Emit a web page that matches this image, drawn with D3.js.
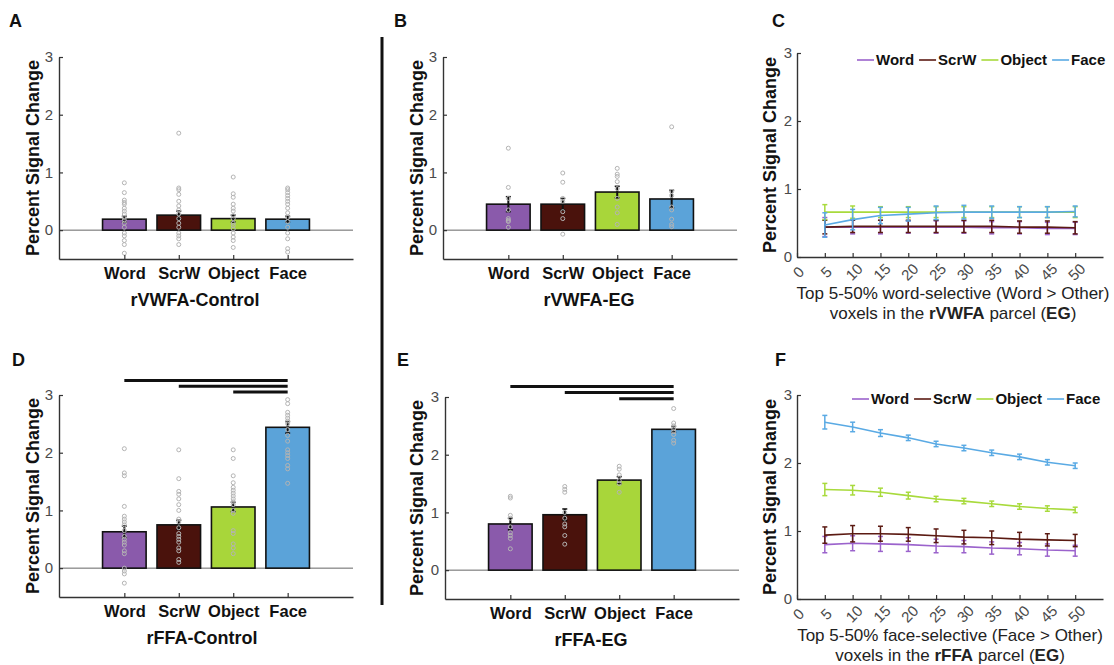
<!DOCTYPE html>
<html>
<head>
<meta charset="utf-8">
<script src="https://cdn.jsdelivr.net/npm/d3@7"></script>
<style>
  body { margin: 0; background: #fff; }
  svg { display: block; font-family: "Liberation Sans", Arial, sans-serif; }
</style>
</head>
<body>
<svg id="fig" width="1114" height="665"></svg>
<script>
// categories and colours
const categories = ["Word", "ScrW", "Object", "Face"];
const barColors = ["#8a5aab", "#4a120c", "#a8d63a", "#5ba3d9"];
const lineColors = ["#9b63cc", "#5b1a12", "#a8da3c", "#5aaae4"];

// A: rVWFA-Control
const meanA = [0.19, 0.26, 0.20, 0.19];
const semA = [0.05, 0.07, 0.06, 0.05];
const dotsA = [
  [0.82, 0.65, 0.52, 0.48, 0.45, 0.38, 0.33, 0.28, 0.22, 0.17, 0.12, 0.05, -0.05, -0.1, -0.18, -0.25, -0.4],
  [1.68, 0.73, 0.7, 0.62, 0.5, 0.42, 0.35, 0.28, 0.2, 0.12, 0.05, -0.05, -0.1, -0.15, -0.25],
  [0.92, 0.63, 0.57, 0.45, 0.38, 0.33, 0.25, 0.2, 0.12, 0.08, 0.02, -0.05, -0.12, -0.18, -0.3],
  [0.73, 0.7, 0.65, 0.6, 0.55, 0.5, 0.45, 0.38, 0.3, 0.22, 0.15, 0.05, -0.05, -0.15, -0.32, -0.38]
];

// B: rVWFA-EG
const meanB = [0.45, 0.45, 0.66, 0.54];
const semB = [0.13, 0.1, 0.1, 0.15];
const dotsB = [
  [1.42, 0.74, 0.55, 0.35, 0.2, 0.17, 0.15, 0.05],
  [0.99, 0.83, 0.55, 0.5, 0.32, 0.2, -0.07],
  [1.07, 0.97, 0.93, 0.84, 0.72, 0.55, 0.4, 0.3, 0.1],
  [1.79, 0.67, 0.6, 0.4, 0.35, 0.19, 0.1, 0.06]
];

// D: rFFA-Control
const meanD = [0.63, 0.75, 1.06, 2.44];
const semD = [0.1, 0.08, 0.08, 0.1];
const dotsD = [
  [2.07, 1.65, 1.6, 1.07, 0.9, 0.85, 0.8, 0.75, 0.65, 0.55, 0.5, 0.45, 0.4, 0.3, 0.25, 0.0, -0.05, -0.1, -0.26],
  [2.05, 1.55, 1.33, 1.28, 1.2, 1.1, 1.0, 0.85, 0.8, 0.7, 0.6, 0.55, 0.5, 0.45, 0.35, 0.3, 0.15, 0.1],
  [2.05, 1.9, 1.6, 1.48, 1.4, 1.35, 1.3, 1.25, 1.2, 1.15, 1.1, 1.0, 0.95, 0.65, 0.6, 0.42, 0.35, 0.25],
  [2.92, 2.85, 2.7, 2.65, 2.6, 2.55, 2.5, 2.4, 2.3, 2.2, 2.05, 2.0, 1.95, 1.9, 1.78, 1.72, 1.47]
];
const sigD = [[1, 4, 3.25], [2, 4, 3.15], [3, 4, 3.05]];

// E: rFFA-EG
const meanE = [0.8, 0.96, 1.56, 2.44];
const semE = [0.1, 0.1, 0.06, 0.05];
const dotsE = [
  [1.28, 1.25, 0.95, 0.9, 0.75, 0.65, 0.6, 0.55, 0.37],
  [1.45, 1.4, 1.35, 1.0, 0.9, 0.8, 0.75, 0.6, 0.45],
  [1.8, 1.75, 1.65, 1.55, 1.5, 1.35],
  [2.8, 2.55, 2.5, 2.45, 2.4, 2.35, 2.25, 2.2]
];
const sigE = [[1, 4, 3.18], [2, 4, 3.08], [3, 4, 2.97]];

// C and F: top 5-50% voxels
const topPercent = [5, 10, 15, 20, 25, 30, 35, 40, 45, 50];
const xTicks = [0, 5, 10, 15, 20, 25, 30, 35, 40, 45, 50];

const meanC = [
  [0.44, 0.44, 0.44, 0.44, 0.44, 0.44, 0.43, 0.43, 0.42, 0.42],
  [0.44, 0.45, 0.45, 0.45, 0.45, 0.45, 0.45, 0.44, 0.44, 0.43],
  [0.66, 0.66, 0.66, 0.66, 0.66, 0.66, 0.66, 0.66, 0.66, 0.66],
  [0.47, 0.55, 0.61, 0.63, 0.65, 0.66, 0.66, 0.66, 0.66, 0.67]
];
const semC = [
  [0.14, 0.1, 0.1, 0.09, 0.09, 0.09, 0.09, 0.09, 0.09, 0.09],
  [0.1, 0.09, 0.09, 0.09, 0.09, 0.09, 0.09, 0.09, 0.09, 0.09],
  [0.11, 0.09, 0.08, 0.08, 0.08, 0.08, 0.08, 0.08, 0.08, 0.08],
  [0.18, 0.15, 0.12, 0.1, 0.1, 0.1, 0.09, 0.08, 0.08, 0.08]
];

const meanF = [
  [0.8, 0.82, 0.81, 0.8, 0.78, 0.77, 0.75, 0.74, 0.72, 0.71],
  [0.94, 0.96, 0.96, 0.95, 0.93, 0.91, 0.9, 0.88, 0.87, 0.86],
  [1.61, 1.6, 1.57, 1.52, 1.47, 1.44, 1.4, 1.36, 1.33, 1.31],
  [2.6, 2.53, 2.44, 2.37, 2.28, 2.22, 2.15, 2.09, 2.01, 1.96]
];
const semF = [
  [0.12, 0.11, 0.11, 0.1, 0.1, 0.09, 0.09, 0.09, 0.09, 0.08],
  [0.12, 0.12, 0.11, 0.1, 0.1, 0.1, 0.1, 0.1, 0.09, 0.09],
  [0.09, 0.07, 0.06, 0.05, 0.04, 0.04, 0.04, 0.04, 0.04, 0.04],
  [0.1, 0.07, 0.05, 0.04, 0.04, 0.04, 0.04, 0.04, 0.04, 0.04]
];

const svg = d3.select("#fig");
const FONT = "Liberation Sans, Arial, sans-serif";
const FONT_AXIS = "#4a4a4a";

function styleAxis(g) {
  g.attr("font-family", FONT);
  g.select(".domain").attr("stroke", "#333").attr("stroke-width", 1.4);
  g.selectAll(".tick line").attr("stroke", "#333").attr("stroke-width", 1.2);
}

function yLabel(x, yMid) {
  svg.append("text")
    .attr("transform", `translate(${x},${yMid}) rotate(-90)`)
    .attr("text-anchor", "middle")
    .attr("dy", "0.35em")
    .style("font-size", "18px")
    .style("font-weight", "bold")
    .style("fill", "#111")
    .text("Percent Signal Change");
}

function panelLetter(letter, x, y) {
  svg.append("text").attr("x", x).attr("y", y)
    .style("font-size", "18px").style("font-weight", "bold").style("fill", "#111")
    .text(letter);
}

function drawBarPanel(cfg) {
  const x = d3.scaleLinear().domain([-0.2, 5.2]).range([cfg.x0, cfg.x1]);
  const y = d3.scaleLinear().domain([-0.5, 3]).range([cfg.yBottom, cfg.yTop]);
  const g = svg.append("g");

  // zero line
  g.append("line")
    .attr("x1", cfg.x0).attr("x2", cfg.x1)
    .attr("y1", y(0)).attr("y2", y(0))
    .attr("stroke", "#666").attr("stroke-width", 1);

  const bw = x(0.8) - x(0);
  g.selectAll("rect.bar").data(cfg.mean).join("rect")
    .attr("class", "bar")
    .attr("x", (d, i) => x(i + 1) - bw / 2)
    .attr("width", bw)
    .attr("y", d => y(d))
    .attr("height", d => y(0) - y(d))
    .attr("fill", (d, i) => barColors[i])
    .attr("stroke", "#111").attr("stroke-width", 1.6);

  // error bars
  cfg.mean.forEach((m, i) => {
    const cx = x(i + 1), s = cfg.sem[i];
    g.append("line").attr("x1", cx).attr("x2", cx)
      .attr("y1", y(m - s)).attr("y2", y(m + s))
      .attr("stroke", "#111").attr("stroke-width", 2);
    [m - s, m + s].forEach(v => {
      g.append("line").attr("x1", cx - 2.5).attr("x2", cx + 2.5)
        .attr("y1", y(v)).attr("y2", y(v))
        .attr("stroke", "#111").attr("stroke-width", 1.5);
    });
  });

  // individual subjects
  cfg.dots.forEach((vals, i) => {
    g.selectAll(null).data(vals).join("circle")
      .attr("cx", x(i + 1)).attr("cy", d => y(d)).attr("r", 2)
      .attr("fill", "none").attr("stroke", "#b4b4b4").attr("stroke-width", 1);
  });

  // significance lines
  (cfg.sig || []).forEach(([a, b, v]) => {
    g.append("line").attr("x1", x(a)).attr("x2", x(b))
      .attr("y1", y(v)).attr("y2", y(v))
      .attr("stroke", "#111").attr("stroke-width", 3);
  });

  const ya = g.append("g").attr("transform", `translate(${cfg.x0},0)`)
    .call(d3.axisLeft(y).tickValues([0, 1, 2, 3]).tickFormat(d3.format("d"))
      .tickSizeInner(-4).tickSizeOuter(0).tickPadding(6));
  styleAxis(ya);
  ya.selectAll("text").style("font-size", "15px").style("fill", FONT_AXIS);

  const xa = g.append("g").attr("transform", `translate(0,${cfg.yBottom})`)
    .call(d3.axisBottom(x).tickValues([1, 2, 3, 4]).tickFormat(d => categories[d - 1])
      .tickSizeInner(-4).tickSizeOuter(0).tickPadding(8));
  styleAxis(xa);
  xa.selectAll("text").style("font-size", "16.5px").style("font-weight", "bold")
    .style("fill", "#111");

  yLabel(cfg.yLabelX, (cfg.yTop + cfg.yBottom) / 2);

  svg.append("text").attr("x", cfg.titleX).attr("y", cfg.yBottom + 47)
    .attr("text-anchor", "middle")
    .style("font-size", "18px").style("font-weight", "bold").style("fill", "#111")
    .text(cfg.title);

  panelLetter(cfg.letter, cfg.letterX, cfg.letterY);
}

function drawLinePanel(cfg) {
  const x = d3.scaleLinear().domain([0, 55]).range([cfg.x0, cfg.x1]);
  const y = d3.scaleLinear().domain([0, 3]).range([cfg.yBottom, cfg.yTop]);
  const g = svg.append("g");
  const line = d3.line().x((d, i) => x(topPercent[i])).y(d => y(d));

  cfg.mean.forEach((series, k) => {
    const col = lineColors[k];
    series.forEach((m, i) => {
      const cx = x(topPercent[i]), s = cfg.sem[k][i];
      g.append("line").attr("x1", cx).attr("x2", cx)
        .attr("y1", y(m - s)).attr("y2", y(m + s))
        .attr("stroke", col).attr("stroke-width", 1.5);
      [m - s, m + s].forEach(v => {
        g.append("line").attr("x1", cx - 2.5).attr("x2", cx + 2.5)
          .attr("y1", y(v)).attr("y2", y(v))
          .attr("stroke", col).attr("stroke-width", 1.5);
      });
    });
    g.append("path").datum(series).attr("d", line)
      .attr("fill", "none").attr("stroke", col).attr("stroke-width", 1.6);
  });

  const ya = g.append("g").attr("transform", `translate(${cfg.x0},0)`)
    .call(d3.axisLeft(y).tickValues([0, 1, 2, 3]).tickFormat(d3.format("d"))
      .tickSizeInner(-4).tickSizeOuter(0).tickPadding(5));
  styleAxis(ya);
  ya.selectAll("text").style("font-size", "15px").style("fill", FONT_AXIS);

  const xa = g.append("g").attr("transform", `translate(0,${cfg.yBottom})`)
    .call(d3.axisBottom(x).tickValues(xTicks).tickFormat(d3.format("d"))
      .tickSizeInner(-4).tickSizeOuter(0));
  styleAxis(xa);
  xa.selectAll("text")
    .attr("y", 0).attr("dy", "0.35em")
    .attr("text-anchor", "middle")
    .attr("transform", "translate(1,15) rotate(-45)")
    .style("font-size", "15px").style("fill", FONT_AXIS);

  yLabel(cfg.yLabelX, (cfg.yTop + cfg.yBottom) / 2);

  // legend
  let lx = cfg.legendX;
  const ly = cfg.legendY;
  categories.forEach((c, k) => {
    g.append("line").attr("x1", lx).attr("x2", lx + 17).attr("y1", ly).attr("y2", ly)
      .attr("stroke", lineColors[k]).attr("stroke-width", 1.6);
    const t = g.append("text").attr("x", lx + 19).attr("y", ly).attr("dy", "0.35em")
      .style("font-size", "15px").style("font-weight", "bold").style("fill", "#111")
      .text(c);
    lx += 19 + t.node().getComputedTextLength() + 5;
  });

  // x label, two lines
  const cx = cfg.xLabelX;
  svg.append("text").attr("x", cx).attr("y", cfg.yBottom + 42)
    .attr("text-anchor", "middle").style("font-size", "17px").style("fill", "#222")
    .text(cfg.xLabel1);
  const t2 = svg.append("text").attr("x", cx).attr("y", cfg.yBottom + 62)
    .attr("text-anchor", "middle").style("font-size", "17px").style("fill", "#222");
  t2.append("tspan").text("voxels in the ");
  t2.append("tspan").style("font-weight", "bold").text(cfg.roi);
  t2.append("tspan").text(" parcel (");
  t2.append("tspan").style("font-weight", "bold").text("EG");
  t2.append("tspan").text(")");

  panelLetter(cfg.letter, cfg.letterX, cfg.letterY);
}

drawBarPanel({ letter: "A", letterX: 9, letterY: 27, x0: 59, x1: 353, yTop: 57, yBottom: 259,
  mean: meanA, sem: semA, dots: dotsA, title: "rVWFA-Control", titleX: 195, yLabelX: 33 });
drawBarPanel({ letter: "B", letterX: 394, letterY: 27, x0: 443, x1: 737, yTop: 57, yBottom: 259,
  mean: meanB, sem: semB, dots: dotsB, title: "rVWFA-EG", titleX: 589, yLabelX: 417 });
drawBarPanel({ letter: "D", letterX: 12, letterY: 366, x0: 59, x1: 353, yTop: 395, yBottom: 597,
  mean: meanD, sem: semD, dots: dotsD, sig: sigD, title: "rFFA-Control", titleX: 202, yLabelX: 33 });
drawBarPanel({ letter: "E", letterX: 397, letterY: 366, x0: 445, x1: 739, yTop: 397, yBottom: 599,
  mean: meanE, sem: semE, dots: dotsE, sig: sigE, title: "rFFA-EG", titleX: 591, yLabelX: 417 });

drawLinePanel({ letter: "C", letterX: 772, letterY: 27, x0: 797, x1: 1103, yTop: 53, yBottom: 257,
  mean: meanC, sem: semC, legendX: 857, legendY: 60, xLabelX: 953,
  xLabel1: "Top 5-50% word-selective (Word > Other)", roi: "rVWFA", yLabelX: 770 });
drawLinePanel({ letter: "F", letterX: 775, letterY: 366, x0: 797, x1: 1103, yTop: 395, yBottom: 599,
  mean: meanF, sem: semF, legendX: 852, legendY: 399, xLabelX: 950,
  xLabel1: "Top 5-50% face-selective (Face > Other)", roi: "rFFA", yLabelX: 770 });

// divider between control and EG panels
svg.append("line").attr("x1", 382).attr("x2", 382).attr("y1", 37).attr("y2", 605)
  .attr("stroke", "#111").attr("stroke-width", 3);
</script>
</body>
</html>
